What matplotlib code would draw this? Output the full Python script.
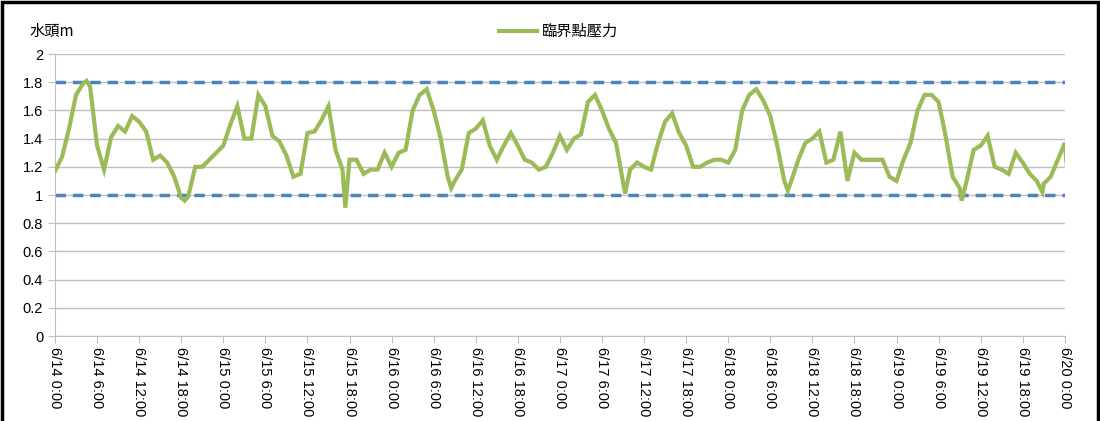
import matplotlib
matplotlib.use("Agg")
import matplotlib.pyplot as plt
import numpy as np
from matplotlib.patches import Rectangle

plt.rcParams['font.family'] = ['Noto Sans CJK TC', 'DejaVu Sans']

# hourly readings, hour 0 = 6/14 0:00
hours = list(range(0, 145))
values = [1.17, 1.27, 1.47, 1.71, 1.79, 1.77, 1.35, 1.18, 1.41, 1.49,
          1.45, 1.56, 1.52, 1.45, 1.25, 1.28, 1.23, 1.13, 0.98, 0.99,
          1.20, 1.20, 1.25, 1.30, 1.35, 1.50, 1.63, 1.40, 1.40, 1.71,
          1.63, 1.42, 1.38, 1.28, 1.13, 1.15, 1.44, 1.45, 1.53, 1.63,
          1.32, 1.18, 1.25, 1.25, 1.15, 1.18, 1.18, 1.30, 1.20, 1.30,
          1.32, 1.60, 1.71, 1.75, 1.60, 1.40, 1.13, 1.10, 1.18, 1.44,
          1.47, 1.53, 1.35, 1.25, 1.35, 1.44, 1.35, 1.25, 1.23, 1.18,
          1.20, 1.30, 1.42, 1.32, 1.40, 1.43, 1.66, 1.71, 1.60, 1.47,
          1.37, 1.09, 1.18, 1.23, 1.20, 1.18, 1.37, 1.52, 1.58, 1.44,
          1.35, 1.20, 1.20, 1.23, 1.25, 1.25, 1.23, 1.32, 1.60, 1.71,
          1.75, 1.67, 1.56, 1.35, 1.10, 1.10, 1.25, 1.37, 1.40, 1.45,
          1.23, 1.25, 1.45, 1.10, 1.30, 1.25, 1.25, 1.25, 1.25, 1.13,
          1.10, 1.25, 1.37, 1.60, 1.71, 1.71, 1.66, 1.42, 1.13, 1.05,
          1.10, 1.32, 1.35, 1.42, 1.20, 1.18, 1.15, 1.30, 1.23, 1.15,
          1.10, 1.08, 1.13, 1.25, 1.37]
# a few short spikes seen between hourly readings
spike_hours = [4.5, 18.5, 41.4, 56.5, 81.3, 104.5, 129.3, 140.8, 144.3]
spike_values = [1.81, 0.96, 0.91, 1.05, 1.01, 1.03, 0.96, 1.02, 1.20]

upper_limit = 1.8
lower_limit = 1.0
yticks = [0, 0.2, 0.4, 0.6, 0.8, 1, 1.2, 1.4, 1.6, 1.8, 2]
ytick_labels = ['0', '0.2', '0.4', '0.6', '0.8', '1', '1.2', '1.4', '1.6', '1.8', '2']
xtick_hours = list(range(0, 145, 6))
xtick_labels = ['6/14 0:00', '6/14 6:00', '6/14 12:00', '6/14 18:00',
                '6/15 0:00', '6/15 6:00', '6/15 12:00', '6/15 18:00',
                '6/16 0:00', '6/16 6:00', '6/16 12:00', '6/16 18:00',
                '6/17 0:00', '6/17 6:00', '6/17 12:00', '6/17 18:00',
                '6/18 0:00', '6/18 6:00', '6/18 12:00', '6/18 18:00',
                '6/19 0:00', '6/19 6:00', '6/19 12:00', '6/19 18:00',
                '6/20 0:00']

t = np.array(hours + spike_hours, dtype=float)
v = np.array(values + spike_values, dtype=float)
order = np.argsort(t)
t, v = t[order], v[order]

fig = plt.figure(figsize=(11, 4.21), dpi=100)
ax = fig.add_axes([0.05, 0.2019, 0.918, 0.6698])

ax.plot(t, v, color='#9bbb59', lw=3, label='臨界點壓力', zorder=3,
        solid_joinstyle='miter')
ax.axhline(upper_limit, color='#4f81bd', lw=2.5, ls=(0, (3, 2)), zorder=2)
ax.axhline(lower_limit, color='#4f81bd', lw=2.5, ls=(0, (3, 2)), zorder=2)

ax.set_xlim(0, 144)
ax.set_ylim(0, 2)
ax.set_yticks(yticks)
ax.set_yticklabels(ytick_labels, fontsize=10.5, family=['Liberation Sans'])
ax.set_xticks(xtick_hours)
ax.set_xticklabels(xtick_labels, rotation=-90, fontsize=10.5,
                   family=['Liberation Sans'])
ax.yaxis.grid(True, color='#bfbfbf', lw=1)
ax.set_axisbelow(True)
for s in ['top', 'right']:
    ax.spines[s].set_visible(False)
for s in ['left', 'bottom']:
    ax.spines[s].set_color('#bfbfbf')
ax.tick_params(axis='x', colors='#bfbfbf', labelcolor='black', length=5, pad=3)
ax.tick_params(axis='y', colors='#bfbfbf', labelcolor='black', length=5)

fig.text(0.027, 0.925, '水頭m', fontsize=11, va='center', ha='left')
leg = fig.legend(loc='center', bbox_to_anchor=(0.508, 0.925), frameon=False,
                 fontsize=11, handlelength=2.5, handletextpad=0.3)

fig.patches.append(Rectangle((0.002, -0.02), 0.996, 1.015, transform=fig.transFigure,
                             fill=False, edgecolor='black', lw=2.5))

fig.savefig('out.png', dpi=100)
